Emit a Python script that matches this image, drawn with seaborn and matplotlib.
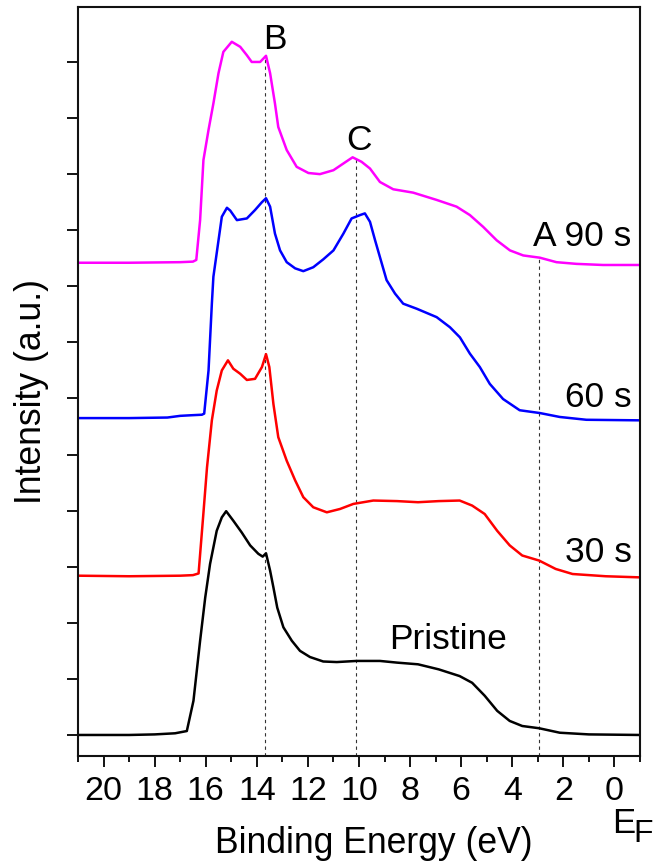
import numpy as np
import pandas as pd
import matplotlib
matplotlib.use("Agg")
import matplotlib.pyplot as plt
from matplotlib.ticker import MultipleLocator, NullFormatter
import seaborn as sns

# ---------------- data ----------------
pristine_ev = [21.0, 19.0, 18.0, 17.2, 16.74, 16.48, 16.22, 16.02, 15.83, 15.57, 15.37, 15.2,
               14.92, 14.59, 14.26, 13.94, 13.77, 13.64, 13.48, 13.35, 13.2, 12.96, 12.63, 12.31,
               11.92, 11.4, 10.87, 10.09, 9.18, 8.51, 7.69, 6.88, 6.06, 5.57, 5.08, 4.59,
               4.1, 3.61, 2.95, 2.14, 1.0, -1.0]
pristine_int = [0.0, 0.0, 0.01, 0.03, 0.07, 0.61, 1.68, 2.45, 3.05, 3.64, 3.88, 3.99,
                3.82, 3.61, 3.38, 3.23, 3.18, 3.24, 2.93, 2.63, 2.27, 1.92, 1.68, 1.5,
                1.39, 1.31, 1.3, 1.32, 1.32, 1.29, 1.26, 1.17, 1.05, 0.93, 0.70, 0.43,
                0.25, 0.16, 0.12, 0.04, 0.01, 0.0]

s30_ev = [21.0, 19.0, 17.0, 16.5, 16.28, 16.1, 15.95, 15.76, 15.57, 15.37, 15.13, 14.92,
          14.65, 14.39, 14.07, 13.8, 13.64, 13.51, 13.35, 13.16, 12.83, 12.5, 12.18, 11.79,
          11.26, 10.74, 10.22, 9.44, 8.51, 7.69, 6.88, 6.06, 5.57, 5.08, 4.59, 4.1,
          3.61, 2.95, 2.3, 1.64, 0.34, -1.0]
s30_int = [2.84, 2.83, 2.84, 2.85, 2.88, 3.9, 4.77, 5.61, 6.14, 6.5, 6.68, 6.53,
           6.44, 6.33, 6.35, 6.56, 6.79, 6.56, 5.9, 5.31, 4.89, 4.54, 4.24, 4.06,
           3.97, 4.03, 4.12, 4.18, 4.17, 4.15, 4.17, 4.18, 4.09, 3.94, 3.64, 3.38,
           3.2, 3.11, 2.96, 2.87, 2.83, 2.81]

s60_ev = [21.0, 19.0, 17.5, 17.0, 16.6, 16.15, 16.06, 15.89, 15.76, 15.7, 15.37, 15.17,
          15.04, 14.78, 14.39, 14.07, 13.8, 13.64, 13.48, 13.29, 13.09, 12.83, 12.5, 12.18,
          11.79, 11.4, 11.0, 10.61, 10.29, 9.96, 9.77, 9.57, 9.37, 9.18, 8.92, 8.59,
          8.27, 7.74, 6.96, 6.44, 6.05, 5.66, 5.27, 4.88, 4.36, 3.71, 2.92, 2.14,
          1.1, -1.0]
s60_int = [5.65, 5.65, 5.66, 5.69, 5.70, 5.71, 5.73, 6.5, 7.69, 8.17, 9.24, 9.4,
           9.35, 9.18, 9.21, 9.36, 9.5, 9.57, 9.42, 8.94, 8.64, 8.43, 8.32, 8.27,
           8.34, 8.48, 8.64, 8.94, 9.21, 9.27, 9.3, 9.15, 8.82, 8.52, 8.11, 7.87,
           7.69, 7.6, 7.45, 7.27, 7.09, 6.8, 6.56, 6.26, 5.99, 5.79, 5.74, 5.67,
           5.62, 5.61]

s90_ev = [21.0, 19.0, 17.0, 16.5, 16.37, 16.22, 16.09, 15.89, 15.7, 15.5, 15.31, 14.98,
          14.65, 14.39, 14.2, 13.87, 13.64, 13.48, 13.29, 13.16, 12.83, 12.44, 11.98, 11.53,
          11.0, 10.61, 10.25, 9.9, 9.57, 9.18, 8.66, 7.88, 6.96, 6.18, 5.66, 5.14,
          4.61, 4.09, 3.57, 2.92, 2.27, 1.49, 0.45, -1.0]
s90_int = [8.42, 8.42, 8.43, 8.44, 8.47, 9.18, 10.25, 10.79, 11.26, 11.8, 12.18, 12.36,
           12.27, 12.12, 12.0, 12.0, 12.11, 11.8, 11.26, 10.84, 10.43, 10.13, 10.02, 10.0,
           10.07, 10.19, 10.3, 10.22, 10.1, 9.86, 9.73, 9.67, 9.54, 9.42, 9.27, 9.06,
           8.82, 8.64, 8.55, 8.51, 8.43, 8.4, 8.38, 8.38]

series_names = ["Pristine", "30 s", "60 s", "90 s"]
series_colors = ["#000000", "#FF0000", "#0000FF", "#FF00FF"]

# dashed guides: position (eV) and upper end (intensity)
guide_ev = [13.67, 10.13, 2.97]
guide_top = [12.1, 10.3, 8.51]

x_ticks = [20, 18, 16, 14, 12, 10, 8, 6, 4, 2, 0]
x_tick_labels = ["20", "18", "16", "14", "12", "10", "8", "6", "4", "2", "0"]

# ---------------- build frame ----------------
frames = []
for name, ev, it in zip(series_names,
                        [pristine_ev, s30_ev, s60_ev, s90_ev],
                        [pristine_int, s30_int, s60_int, s90_int]):
    frames.append(pd.DataFrame({"energy": ev, "intensity": it, "sample": name}))
df = pd.concat(frames, ignore_index=True)

sns.set_style("ticks")
plt.rcParams["font.family"] = ["Liberation Sans", "DejaVu Sans"]
plt.rcParams["text.color"] = "black"
plt.rcParams["axes.labelcolor"] = "black"
plt.rcParams["xtick.color"] = "black"
plt.rcParams["ytick.color"] = "black"
plt.rcParams["axes.edgecolor"] = "black"

W, H = 656, 861
fig = plt.figure(figsize=(W / 100, H / 100), dpi=100)
fig.patch.set_facecolor("white")
ax = fig.add_axes([78 / W, 1 - 756 / H, (640 - 78) / W, (756 - 7) / H])

sns.lineplot(data=df, x="energy", y="intensity", hue="sample",
             palette=dict(zip(series_names, series_colors)),
             hue_order=series_names, sort=False, estimator=None,
             linewidth=1.8, legend=False, ax=ax)

ymin, ymax = -0.375, 12.98
ax.vlines(guide_ev, ymin, guide_top, colors="#333333", linewidth=0.8,
          linestyles=(0, (3, 3)), zorder=1)

ax.set_xlim(21, -1)
ax.set_ylim(ymin, ymax)

ax.set_xticks(x_ticks)
ax.set_xticklabels(x_tick_labels)
ax.xaxis.set_minor_locator(MultipleLocator(1))
ax.yaxis.set_major_locator(MultipleLocator(1))
ax.yaxis.set_major_formatter(NullFormatter())

ax.tick_params(axis="x", which="major", direction="out", length=8, width=1.3,
               labelsize=24.5, pad=6.5, top=False, colors="black")
ax.tick_params(axis="x", which="minor", direction="out", length=4.5, width=1.3, top=False)
ax.tick_params(axis="y", which="major", direction="out", length=8, width=1.3,
               right=False, left=True)
for sp in ax.spines.values():
    sp.set_linewidth(1.5)
    sp.set_color("#111111")
    sp.set_visible(True)

ax.set_xlabel("Binding Energy (eV)", fontsize=25.6, color="black")
ax.set_ylabel("Intensity (a.u.)", fontsize=25.6, color="black")
ax.xaxis.set_label_coords((374 - 78) / 562, (756 - 826) / 749)
ax.yaxis.set_label_coords((49 - 78) / 562, (756 - 392) / 749)

# annotations
ann_fs = 25.5
ax.text(13.29, 12.24, "B", fontsize=ann_fs, ha="center", va="baseline")
ax.text(10.0, 10.43, "C", fontsize=ann_fs, ha="center", va="baseline")
ax.text(-0.67, 8.71, "A 90 s", fontsize=ann_fs, ha="right", va="baseline")
ax.text(-0.67, 5.84, "60 s", fontsize=ann_fs, ha="right", va="baseline")
ax.text(-0.67, 3.08, "30 s", fontsize=ann_fs, ha="right", va="baseline")
ax.text(6.51, 1.53, "Pristine", fontsize=ann_fs, ha="center", va="baseline")

# E_F label below the zero tick
fig.text(611.7 / W, 1 - 833 / H, "E", fontsize=25, ha="left", va="baseline")
fig.text(633 / W, 1 - 842 / H, "F", fontsize=23, ha="left", va="baseline")

fig.savefig("out.png", dpi=100, facecolor="white")
